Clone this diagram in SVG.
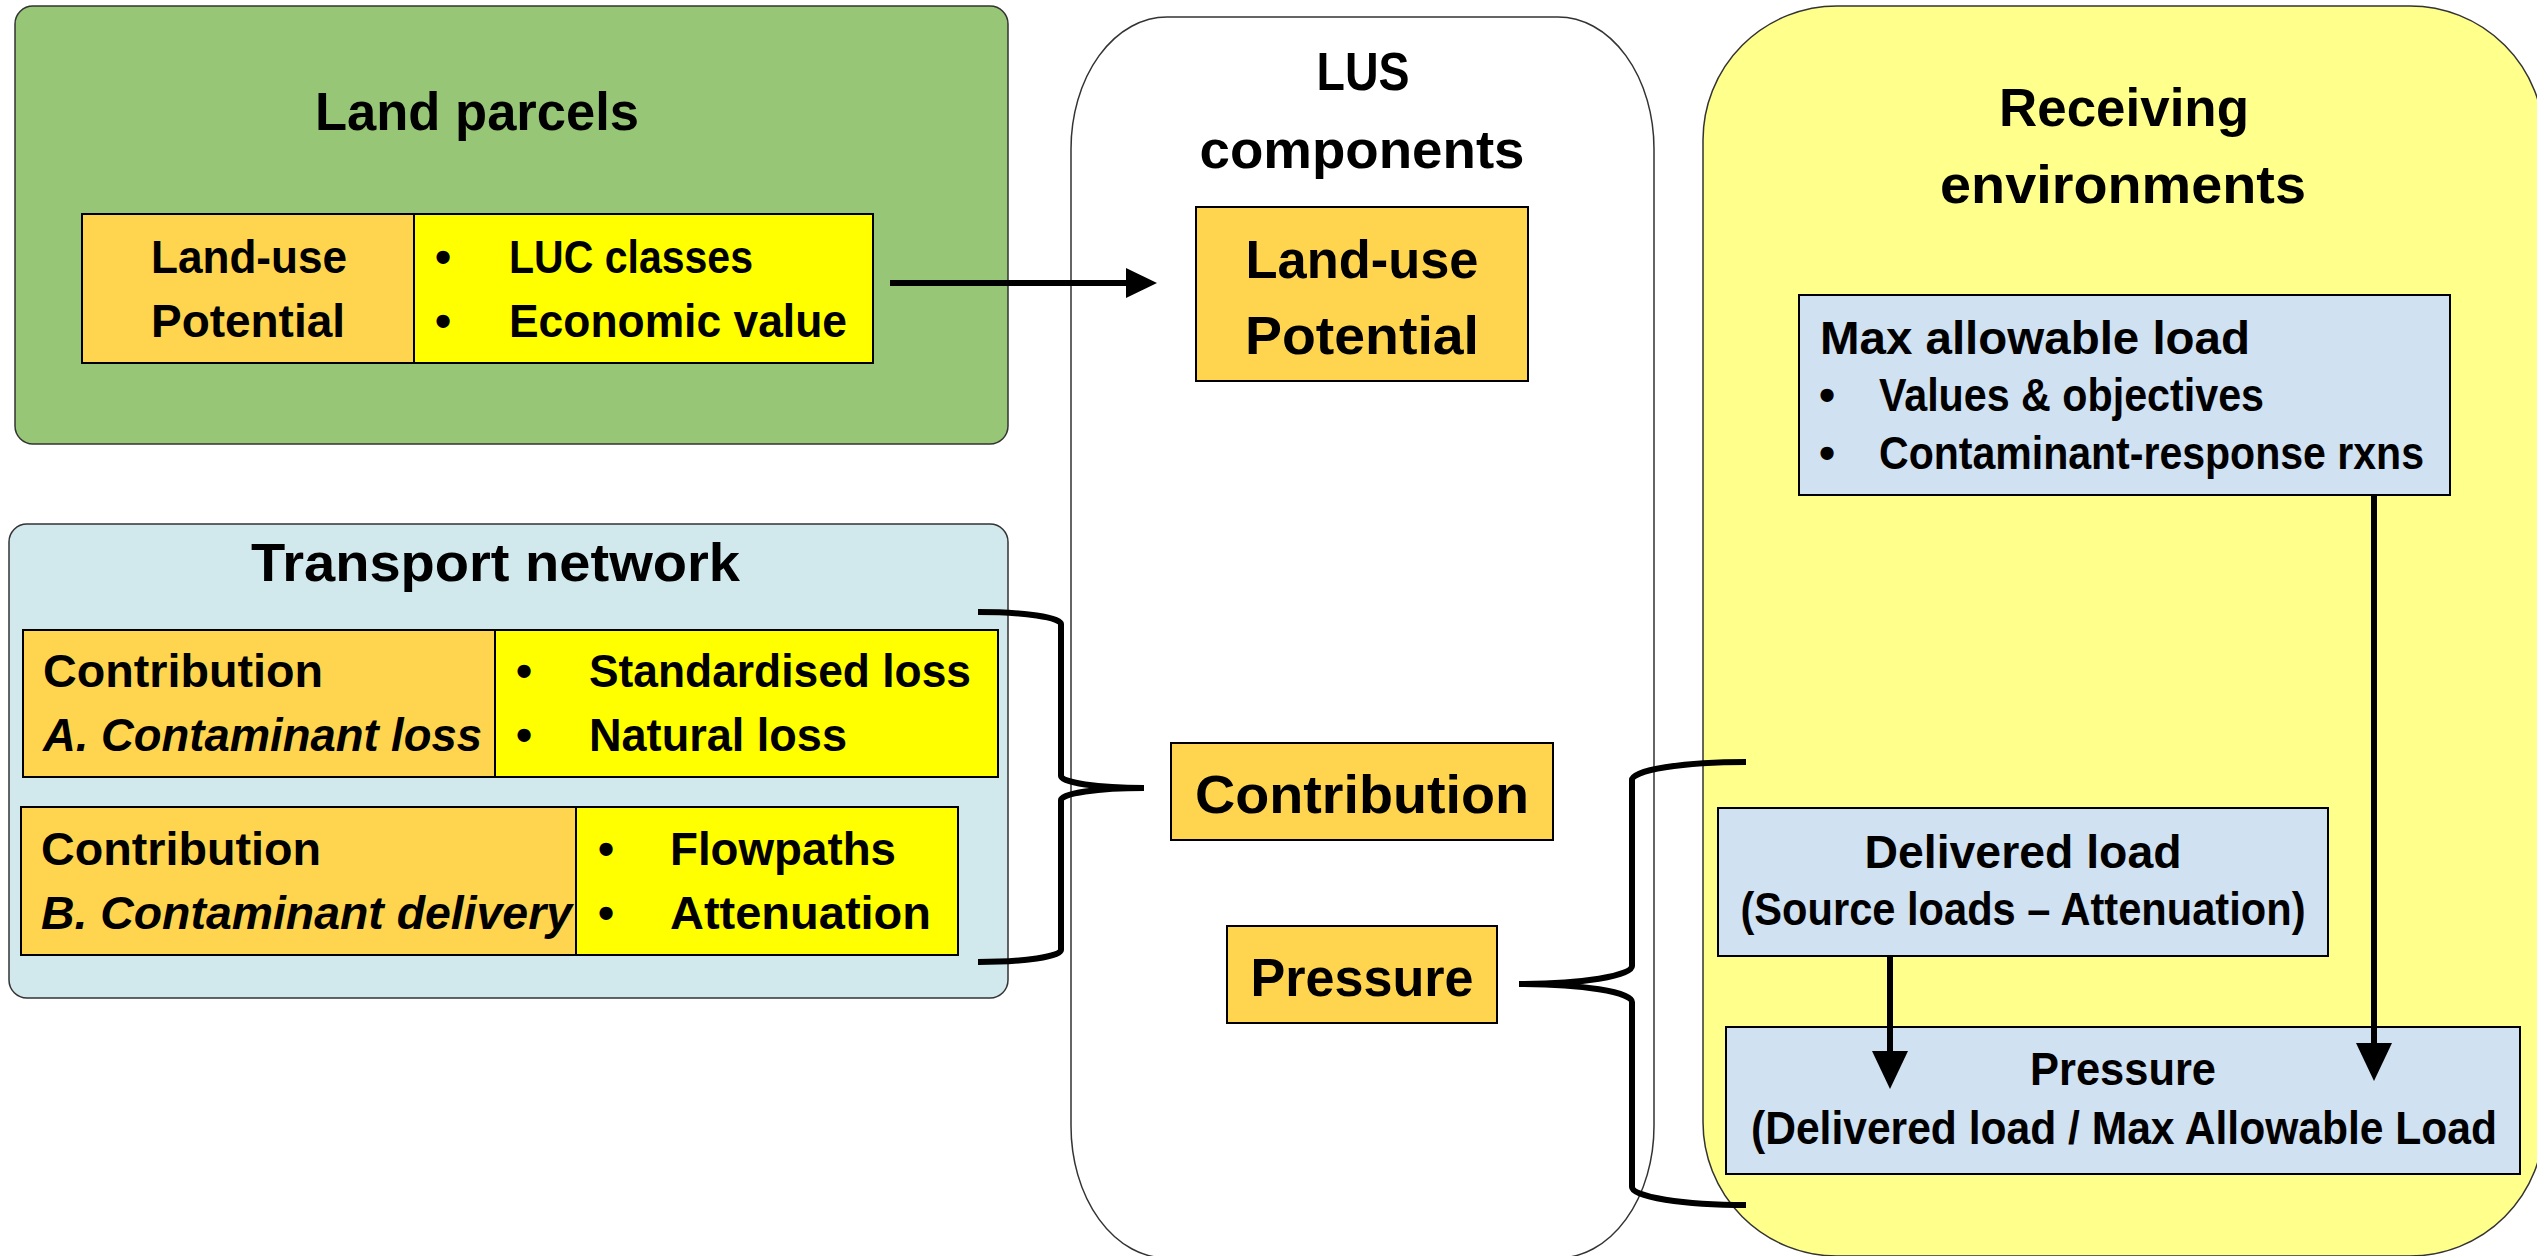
<svg xmlns="http://www.w3.org/2000/svg" width="2537" height="1256" viewBox="0 0 2537 1256">
<defs>
<style>
.t{font-family:"Liberation Sans",Arial,sans-serif;font-weight:bold;fill:#000}
.big{font-size:54px}
.mid{font-size:46px}
.it{font-style:italic}
.c{text-anchor:middle}
.cont{stroke:#333;stroke-width:1.5}
.box{stroke:#000;stroke-width:2}
.or{fill:#FFD54F}
.ye{fill:#FFFF00}
.bl{fill:#D0E1F1}
.ln{fill:none;stroke:#000;stroke-width:6}
</style>
<marker id="ahS" markerUnits="userSpaceOnUse" markerWidth="40" markerHeight="40" refX="2" refY="15" orient="auto" overflow="visible"><path d="M0,0 L31,15 L0,30 z" fill="#000"/></marker>
<marker id="ahL" markerUnits="userSpaceOnUse" markerWidth="44" markerHeight="44" refX="2" refY="18" orient="auto" overflow="visible"><path d="M0,0 L38,18 L0,36 z" fill="#000"/></marker>
</defs>
<rect width="2537" height="1256" fill="#fff"/>

<g id="land-parcels">
<rect class="cont" x="15" y="6" width="993" height="438" rx="18" fill="#97C677"/>
<text class="t big" x="315" y="130" textLength="324" lengthAdjust="spacingAndGlyphs">Land parcels</text>
<g id="lp-potential">
<rect class="box or" x="82" y="214" width="332" height="149"/>
<text class="t mid c" x="249" y="273" textLength="196" lengthAdjust="spacingAndGlyphs">Land-use</text>
<text class="t mid c" x="248" y="337" textLength="194" lengthAdjust="spacingAndGlyphs">Potential</text>
</g>
<g id="lp-list">
<rect class="box ye" x="414" y="214" width="459" height="149"/>
<text class="t mid c" x="443" y="273">•</text>
<text class="t mid c" x="443" y="337">•</text>
<text class="t mid" x="509" y="273" textLength="244" lengthAdjust="spacingAndGlyphs">LUC classes</text>
<text class="t mid" x="509" y="337" textLength="338" lengthAdjust="spacingAndGlyphs">Economic value</text>
</g>
</g>

<g id="transport-network">
<rect class="cont" x="9" y="524" width="999" height="474" rx="18" fill="#D1E8EC"/>
<text class="t big" x="251" y="581" textLength="489" lengthAdjust="spacingAndGlyphs">Transport network</text>
<g id="tn-a">
<rect class="box or" x="23" y="630" width="472" height="147"/>
<rect class="box ye" x="495" y="630" width="503" height="147"/>
<text class="t mid" x="43" y="687" textLength="280" lengthAdjust="spacingAndGlyphs">Contribution</text>
<text class="t mid it" x="43" y="751" textLength="439" lengthAdjust="spacingAndGlyphs">A. Contaminant loss</text>
<text class="t mid c" x="524" y="687">•</text>
<text class="t mid c" x="524" y="751">•</text>
<text class="t mid" x="589" y="687" textLength="382" lengthAdjust="spacingAndGlyphs">Standardised loss</text>
<text class="t mid" x="589" y="751" textLength="258" lengthAdjust="spacingAndGlyphs">Natural loss</text>
</g>
<g id="tn-b">
<rect class="box or" x="21" y="807" width="555" height="148"/>
<rect class="box ye" x="576" y="807" width="382" height="148"/>
<text class="t mid" x="41" y="865" textLength="280" lengthAdjust="spacingAndGlyphs">Contribution</text>
<text class="t mid it" x="41" y="929" textLength="531" lengthAdjust="spacingAndGlyphs">B. Contaminant delivery</text>
<text class="t mid c" x="606" y="865">•</text>
<text class="t mid c" x="606" y="929">•</text>
<text class="t mid" x="670" y="865" textLength="226" lengthAdjust="spacingAndGlyphs">Flowpaths</text>
<text class="t mid" x="670" y="929" textLength="261" lengthAdjust="spacingAndGlyphs">Attenuation</text>
</g>
</g>

<g id="lus-components">
<rect class="cont" x="1071" y="17" width="583" height="1241" rx="96" ry="132" fill="#fff" stroke="#000"/>
<text class="t big c" x="1363" y="90" textLength="93" lengthAdjust="spacingAndGlyphs">LUS</text>
<text class="t big c" x="1362" y="168" textLength="325" lengthAdjust="spacingAndGlyphs">components</text>
<g id="lus-potential">
<rect class="box or" x="1196" y="207" width="332" height="174"/>
<text class="t big c" x="1362" y="278" textLength="233" lengthAdjust="spacingAndGlyphs">Land-use</text>
<text class="t big c" x="1362" y="354" textLength="234" lengthAdjust="spacingAndGlyphs">Potential</text>
</g>
<g id="lus-contribution">
<rect class="box or" x="1171" y="743" width="382" height="97"/>
<text class="t big c" x="1362" y="813" textLength="334" lengthAdjust="spacingAndGlyphs">Contribution</text>
</g>
<g id="lus-pressure">
<rect class="box or" x="1227" y="926" width="270" height="97"/>
<text class="t big c" x="1362" y="996" textLength="223" lengthAdjust="spacingAndGlyphs">Pressure</text>
</g>
</g>

<g id="receiving-environments">
<rect class="cont" x="1703" y="6" width="841" height="1250" rx="134" fill="#FFFF8C" stroke="#000"/>
<text class="t big c" x="2124" y="126" textLength="250" lengthAdjust="spacingAndGlyphs">Receiving</text>
<text class="t big c" x="2123" y="203" textLength="366" lengthAdjust="spacingAndGlyphs">environments</text>
<g id="max-load">
<rect class="box bl" x="1799" y="295" width="651" height="200"/>
<text class="t mid" x="1820" y="354" textLength="430" lengthAdjust="spacingAndGlyphs">Max allowable load</text>
<text class="t mid c" x="1827" y="411">•</text>
<text class="t mid c" x="1827" y="469">•</text>
<text class="t mid" x="1879" y="411" textLength="385" lengthAdjust="spacingAndGlyphs">Values &amp; objectives</text>
<text class="t mid" x="1879" y="469" textLength="545" lengthAdjust="spacingAndGlyphs">Contaminant-response rxns</text>
</g>
<g id="delivered-load">
<rect class="box bl" x="1718" y="808" width="610" height="148"/>
<text class="t mid c" x="2023" y="868" textLength="317" lengthAdjust="spacingAndGlyphs">Delivered load</text>
<text class="t mid c" x="2023" y="925" textLength="565" lengthAdjust="spacingAndGlyphs">(Source loads – Attenuation)</text>
</g>
<g id="pressure">
<rect class="box bl" x="1726" y="1027" width="794" height="147"/>
<text class="t mid c" x="2123" y="1085" textLength="186" lengthAdjust="spacingAndGlyphs">Pressure</text>
<text class="t mid c" x="2124" y="1144" textLength="746" lengthAdjust="spacingAndGlyphs">(Delivered load / Max Allowable Load</text>
</g>
</g>

<g id="connectors">
<line class="ln" x1="890" y1="283" x2="1128" y2="283" marker-end="url(#ahS)"/>
<path class="ln" d="M978,612 A83,12 0 0 1 1061,624 L1061,776 A83,12 0 0 0 1144,788 A83,12 0 0 0 1061,800 L1061,950 A83,12 0 0 1 978,962"/>
<path class="ln" d="M1746,762 A114,18 0 0 0 1632,780 L1632,966 A114,18 0 0 1 1519,984 A114,18 0 0 1 1632,1002 L1632,1187 A114,18 0 0 0 1746,1205"/>
<line class="ln" x1="2374" y1="495" x2="2374" y2="1045" marker-end="url(#ahL)"/>
<line class="ln" x1="1890" y1="956" x2="1890" y2="1053" marker-end="url(#ahL)"/>
</g>
</svg>
